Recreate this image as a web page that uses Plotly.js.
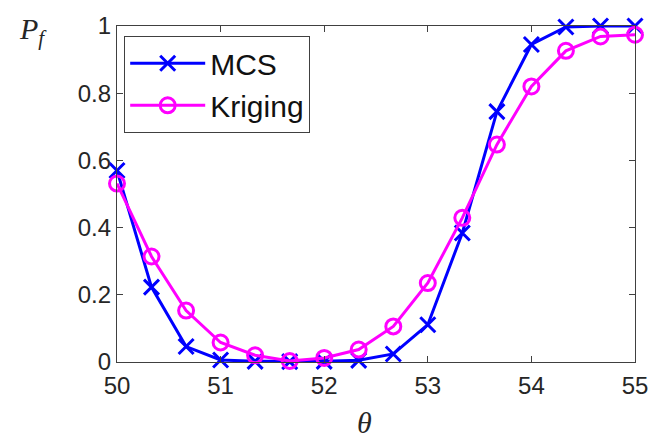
<!DOCTYPE html>
<html>
<head>
<meta charset="utf-8">
<script src="https://cdn.plot.ly/plotly-3.0.1.min.js"></script>
<style>html,body{margin:0;padding:0;background:#fff;}#chart{width:664px;height:442px;}</style>
</head>
<body>
<div id="chart"></div>
<script>
const theta = [50, 50.333, 50.667, 51, 51.333, 51.667, 52, 52.333, 52.667, 53, 53.333, 53.667, 54, 54.333, 54.667, 55];
const mcs = [0.57, 0.223, 0.046, 0.006, 0.002, 0.001, 0.002, 0.005, 0.024, 0.111, 0.384, 0.745, 0.945, 0.997, 1.0, 1.0];
const kriging = [0.531, 0.314, 0.153, 0.058, 0.02, 0.003, 0.012, 0.037, 0.106, 0.235, 0.429, 0.647, 0.82, 0.926, 0.969, 0.974];
const xTicks = [50, 51, 52, 53, 54, 55];
const yTicks = [0, 0.2, 0.4, 0.6, 0.8, 1];
const yTickText = ['0', '0.2', '0.4', '0.6', '0.8', '1'];

const traces = [
  {x: theta, y: mcs, name: 'MCS', mode: 'lines+markers', cliponaxis: false,
   line: {color: '#0000ff', width: 3},
   marker: {symbol: 'x-thin-open', size: 15, color: '#0000ff', line: {color: '#0000ff', width: 3}}},
  {x: theta, y: kriging, name: 'Kriging', mode: 'lines+markers', cliponaxis: false,
   line: {color: '#ff00ff', width: 3},
   marker: {symbol: 'circle-open', size: 15, color: '#ff00ff', line: {color: '#ff00ff', width: 3}}}
];

const axisCommon = {
  showgrid: false, zeroline: false, showline: true, linecolor: '#404040', linewidth: 1.2,
  mirror: 'ticks', ticks: 'inside', ticklen: 6, tickcolor: '#404040', tickwidth: 1,
  tickfont: {family: 'Liberation Sans, Arial, sans-serif', size: 24, color: '#262626'}
};

const layout = {
  width: 664, height: 442,
  margin: {l: 117, r: 29, t: 26, b: 80},
  paper_bgcolor: '#fff', plot_bgcolor: '#fff',
  showlegend: true,
  legend: {x: 0.0135, y: 0.97, xanchor: 'left', yanchor: 'top',
    bgcolor: '#fff', bordercolor: '#404040', borderwidth: 1.2,
    font: {family: 'Liberation Sans, Arial, sans-serif', size: 30, color: '#111'},
    itemwidth: 75, tracegroupgap: 0},
  xaxis: Object.assign({}, axisCommon, {range: [50, 55], tickvals: xTicks, ticktext: xTicks.map(String), ticklabelstandoff: 2}),
  yaxis: Object.assign({}, axisCommon, {range: [0, 1], tickvals: yTicks, ticktext: yTickText, ticklabelstandoff: 0}),
  annotations: [
    {text: '<i>P</i><sub><i>f</i></sub>', xref: 'paper', yref: 'paper', x: -0.193, y: 0.985,
     xanchor: 'left', yanchor: 'middle', showarrow: false,
     font: {family: 'Liberation Serif, Times New Roman, serif', size: 30, color: '#262626'}},
    {text: '<i>θ</i>', xref: 'paper', yref: 'paper', x: 0.478, y: -0.18,
     xanchor: 'center', yanchor: 'middle', showarrow: false,
     font: {family: 'Liberation Serif, Times New Roman, serif', size: 30, color: '#262626'}}
  ]
};

Plotly.newPlot('chart', traces, layout, {displayModeBar: false, staticPlot: true});
</script>
</body>
</html>
